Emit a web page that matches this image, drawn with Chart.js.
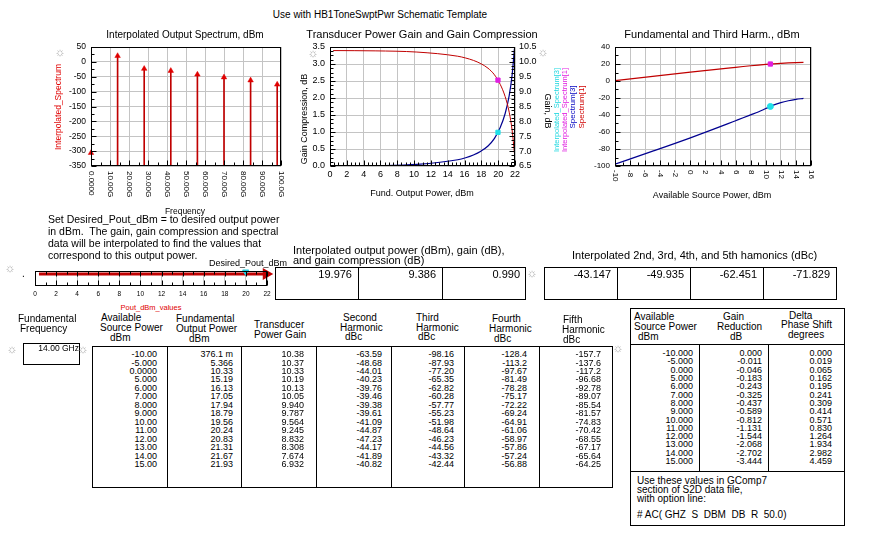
<!DOCTYPE html>
<html>
<head>
<meta charset="utf-8">
<script src="https://cdn.jsdelivr.net/npm/chart.js@4.4.1/dist/chart.umd.min.js"></script>
<style>
  body { margin: 0; background: #fff; }
  #page { position: relative; width: 880px; height: 536px; overflow: hidden; font-family: "Liberation Sans", Arial, sans-serif; color: #000; }
  .t { position: absolute; white-space: pre; }
  .line { position: absolute; background: #000; }
  canvas { position: absolute; }
</style>
</head>
<body>
<div id="page">
  <canvas id="spec" width="254" height="182" style="left:36px;top:36px"></canvas>
  <canvas id="gain" width="260" height="150" style="left:290px;top:36px"></canvas>
  <canvas id="harm" width="245" height="154" style="left:580px;top:36px"></canvas>
  <canvas id="slider" width="260" height="48" style="left:20px;top:255px"></canvas>
</div>
<script>
// spectrum at the desired output power (GHz, dBm)
const specFreqGHz = [0, 14, 28, 42, 56, 70, 84, 98];
const specDbm = [-306, 19.976, -23.171, -29.959, -42.475, -51.853, -62, -76];
const freqTicks = [0, 10, 20, 30, 40, 50, 60, 70, 80, 90, 100];
const freqTickLabels = ["0.0000", "10.00G", "20.00G", "30.00G", "40.00G", "50.00G", "60.00G", "70.00G", "80.00G", "90.00G", "100.0G"];
const pinTicks = [-10, -8, -6, -4, -2, 0, 2, 4, 6, 8, 10, 12, 14, 16];
const pinTickLabels = ["-10", "-8", "-6", "-4", "-2", "0", "2", "4", "6", "8", "10", "12", "14", "16"];

// power sweep
const pinDbm = [-10, -5, 0, 5, 6, 7, 8, 9, 10, 11, 12, 13, 14, 15];
const poutDbm = [0.3761, 5.366, 10.33, 15.19, 16.13, 17.05, 17.94, 18.79, 19.56, 20.24, 20.83, 21.31, 21.67, 21.93];
const gainDb = [10.38, 10.37, 10.33, 10.19, 10.13, 10.05, 9.940, 9.787, 9.564, 9.245, 8.832, 8.308, 7.674, 6.932];
const h2Dbc = [-63.59, -48.68, -44.01, -40.23, -39.76, -39.46, -39.38, -39.61, -41.09, -44.87, -47.23, -44.17, -41.89, -40.82];
const h3Dbc = [-98.16, -87.93, -77.20, -65.35, -62.82, -60.28, -57.77, -55.23, -51.98, -48.64, -46.23, -44.56, -43.32, -42.44];
const h4Dbc = [-128.4, -113.2, -97.67, -81.49, -78.28, -75.17, -72.22, -69.24, -64.91, -61.06, -58.97, -57.86, -57.24, -56.88];
const h5Dbc = [-157.7, -137.6, -117.2, -96.68, -92.78, -89.07, -85.54, -81.57, -74.83, -70.42, -68.55, -67.17, -65.64, -64.25];
const gainReduction = [0.000, -0.011, -0.046, -0.183, -0.243, -0.325, -0.437, -0.589, -0.812, -1.131, -1.544, -2.068, -2.702, -3.444];
const phaseShift = [0.000, 0.019, 0.065, 0.162, 0.195, 0.241, 0.309, 0.414, 0.571, 0.830, 1.264, 1.934, 2.982, 4.459];

// interpolated at Desired_Pout_dBm
const desiredPout = 19.976;
const interpGain = 9.386;
const interpComp = 0.990;
const interpHarmonics = [-43.147, -49.935, -62.451, -71.829];
const desiredPin = 10.61;
const interpThird = -29.959;

const FONT = '"Liberation Sans", Arial, sans-serif';
const page = document.getElementById("page");

function text(x, y, s, o = {}) {
  const d = document.createElement("div");
  d.className = "t";
  d.textContent = s;
  const size = o.size || 10;
  d.style.fontSize = size + "px";
  d.style.lineHeight = size + "px";
  d.style.left = x + "px";
  d.style.top = y + "px";
  let tf = o.align === "center" ? "translate(-50%,-50%)" : o.align === "right" ? "translate(-100%,-50%)" : "translate(0,-50%)";
  if (o.rot) tf = "translate(-50%,-50%) rotate(" + o.rot + "deg)";
  d.style.transform = tf;
  if (o.color) d.style.color = o.color;
  page.appendChild(d);
}
function column(xRight, yFirst, step, values, size) {
  const d = document.createElement("div");
  d.className = "t";
  d.style.fontSize = size + "px";
  d.style.lineHeight = step + "px";
  d.style.textAlign = "right";
  d.style.left = xRight + "px";
  d.style.top = (yFirst - step / 2) + "px";
  d.style.transform = "translateX(-100%)";
  d.innerHTML = values.join("<br>");
  page.appendChild(d);
}
function box(x, y, w, h) {
  const d = document.createElement("div");
  d.style.cssText = `position:absolute;left:${x}px;top:${y}px;width:${w}px;height:${h}px;border:1px solid #000;box-sizing:border-box`;
  page.appendChild(d);
}
function vline(x, y1, y2) {
  const d = document.createElement("div");
  d.className = "line";
  d.style.cssText += `left:${x}px;top:${y1}px;width:1px;height:${y2 - y1}px`;
  page.appendChild(d);
}
function hline(x1, x2, y) {
  const d = document.createElement("div");
  d.className = "line";
  d.style.cssText += `left:${x1}px;top:${y}px;width:${x2 - x1}px;height:1px`;
  page.appendChild(d);
}
const sun = (x, y) => text(x, y, "\u263C", { size: 12, align: "center", color: "#b0b0b0" });

const fmt4 = v => v === 0 ? "0.0000" : Math.abs(v) < 1 ? (v * 1000).toPrecision(4) + " m" : v.toPrecision(4);
const fmt3 = v => v.toFixed(3);

// ---------- plugins ----------
function framePlugin(o) {
  return {
    id: "frame",
    afterDraw(chart) {
      const { ctx, chartArea: a, scales } = chart;
      const L = Math.round(a.left) + 0.5, R = Math.round(a.right) - 0.5;
      const T = Math.round(a.top) + 0.5, B = Math.round(a.bottom) - 0.5;
      ctx.save();
      ctx.strokeStyle = "#000";
      ctx.lineWidth = 1;
      ctx.beginPath();
      const seg = (x1, y1, x2, y2) => { ctx.moveTo(x1, y1); ctx.lineTo(x2, y2); };
      const marks = (scale, step, draw) => {
        if (!scale || !step) return;
        const n = Math.round((scale.max - scale.min) / step);
        for (let i = 0; i <= n; i++) draw(Math.round(scale.getPixelForValue(scale.min + i * step)) + 0.5, i);
      };
      marks(scales.x, o.xMinor, (p, i) => {
        const len = i % o.xEvery === 0 ? 5 : 3;
        seg(p, B, p, B - len);
        if (o.xTop) seg(p, T, p, T + len);
      });
      marks(scales.y, o.yMinor, (p, i) => seg(L, p, L + (i % o.yEvery === 0 ? 5 : 3), p));
      marks(scales.y2, o.y2Minor, (p, i) => seg(R, p, R - (i % o.y2Every === 0 ? 5 : 3), p));
      ctx.stroke();
      ctx.strokeRect(L, T, R - L, B - T);
      ctx.restore();
    }
  };
}
function vLabelPlugin(values, labels, size, pad) {
  return {
    id: "vlabels",
    afterDraw(chart) {
      const { ctx, chartArea: a, scales: { x } } = chart;
      ctx.save();
      ctx.font = size + "px " + FONT;
      ctx.fillStyle = "#000";
      ctx.textAlign = "left";
      ctx.textBaseline = "middle";
      values.forEach((v, i) => {
        ctx.save();
        ctx.translate(Math.round(x.getPixelForValue(v)), a.bottom + pad);
        ctx.rotate(Math.PI / 2);
        ctx.fillText(labels[i], 0, 0);
        ctx.restore();
      });
      ctx.restore();
    }
  };
}

Chart.defaults.font.family = FONT;
Chart.defaults.color = "#000";
Chart.defaults.animation = false;
const GRID = "#c4c4c4";
const base = { responsive: false, devicePixelRatio: 1, plugins: { legend: { display: false }, tooltip: { enabled: false } } };

// ---------- Interpolated Output Spectrum ----------
new Chart(document.getElementById("spec"), {
  type: "bar",
  data: {
    datasets: [
      { type: "scatter", data: specFreqGHz.map((f, i) => ({ x: f, y: specDbm[i] })), pointStyle: "triangle", pointRadius: 3.2, backgroundColor: "#e00000", borderColor: "#e00000", borderWidth: 0.5, clip: false },
      { type: "bar", data: specFreqGHz.map((f, i) => ({ x: f, y: [-350, specDbm[i]] })), backgroundColor: "#c00000", barThickness: 1 }
    ]
  },
  options: {
    ...base,
    layout: { padding: { top: 11, right: 9 } },
    scales: {
      x: { type: "linear", min: 0, max: 100, offset: false, ticks: { display: false, stepSize: 10 }, grid: { color: GRID, drawTicks: false, offset: false }, border: { display: false }, afterFit: s => { s.height = 52; } },
      y: { min: -350, max: 50, ticks: { stepSize: 50, font: { size: 8.5 }, padding: 5 }, grid: { color: GRID, drawTicks: false }, border: { display: false }, afterFit: s => { s.width = 55; } }
    }
  },
  plugins: [framePlugin({ xMinor: 5, xEvery: 2, yMinor: 25, yEvery: 2 }), vLabelPlugin(freqTicks, freqTickLabels, 8, 5)]
});

// ---------- Transducer Power Gain and Gain Compression ----------
new Chart(document.getElementById("gain"), {
  type: "scatter",
  data: {
    datasets: [
      { data: [{ x: desiredPout, y: interpGain }], yAxisID: "y2", pointStyle: "rect", pointRadius: 3, backgroundColor: "#e020e0", borderColor: "#e020e0" },
      { data: [{ x: desiredPout, y: interpComp }], yAxisID: "y", pointStyle: "rect", pointRadius: 3, backgroundColor: "#20e0e8", borderColor: "#20e0e8" },
      { data: poutDbm.map((p, i) => ({ x: p, y: gainDb[i] })), yAxisID: "y2", showLine: true, borderColor: "#c00000", borderWidth: 1, pointRadius: 0, cubicInterpolationMode: "monotone" },
      { data: poutDbm.map((p, i) => ({ x: p, y: -gainReduction[i] })), yAxisID: "y", showLine: true, borderColor: "#000090", borderWidth: 1.2, pointRadius: 0, cubicInterpolationMode: "monotone" }
    ]
  },
  options: {
    ...base,
    layout: { padding: { top: 11 } },
    scales: {
      x: { min: 0, max: 22, ticks: { stepSize: 2, font: { size: 9 }, maxRotation: 0, autoSkip: false, padding: 3 }, grid: { color: GRID, drawTicks: false }, border: { display: false }, afterFit: s => { s.height = 20; } },
      y: { position: "left", min: 0, max: 3.5, ticks: { stepSize: 0.5, callback: v => v.toFixed(1), font: { size: 9 }, padding: 5 }, grid: { color: GRID, drawTicks: false }, border: { display: false }, afterFit: s => { s.width = 40; } },
      y2: { position: "right", min: 6.5, max: 10.5, ticks: { stepSize: 0.5, callback: v => v.toFixed(1), font: { size: 9 }, padding: 4 }, grid: { display: false, drawTicks: false }, border: { display: false }, afterFit: s => { s.width = 35; } }
    }
  },
  plugins: [framePlugin({ xMinor: 0.5, xEvery: 4, yMinor: 0.125, yEvery: 4, y2Minor: 0.125, y2Every: 4 })]
});

// ---------- Fundamental and Third Harm. ----------
new Chart(document.getElementById("harm"), {
  type: "scatter",
  data: {
    datasets: [
      { data: [{ x: desiredPin, y: desiredPout }], pointStyle: "rect", pointRadius: 3, backgroundColor: "#e020e0", borderColor: "#e020e0" },
      { data: [{ x: desiredPin, y: interpThird }], pointStyle: "circle", pointRadius: 3, backgroundColor: "#20e0e8", borderColor: "#20e0e8" },
      { data: pinDbm.map((p, i) => ({ x: p, y: poutDbm[i] })), showLine: true, borderColor: "#c00000", borderWidth: 1.2, pointRadius: 0 },
      { data: pinDbm.map((p, i) => ({ x: p, y: poutDbm[i] + h3Dbc[i] })), showLine: true, borderColor: "#000090", borderWidth: 1.2, pointRadius: 0, cubicInterpolationMode: "monotone" }
    ]
  },
  options: {
    ...base,
    layout: { padding: { top: 11, right: 14 } },
    scales: {
      x: { min: -10, max: 16, ticks: { display: false, stepSize: 2 }, grid: { color: GRID, drawTicks: false }, border: { display: false }, afterFit: s => { s.height = 24; } },
      y: { min: -100, max: 40, ticks: { stepSize: 20, font: { size: 8 }, padding: 5 }, grid: { color: GRID, drawTicks: false }, border: { display: false }, afterFit: s => { s.width = 35; } }
    }
  },
  plugins: [framePlugin({ xMinor: 1, xEvery: 2, yMinor: 10, yEvery: 2 }), vLabelPlugin(pinTicks, pinTickLabels, 8, 4)]
});

// ---------- Desired_Pout_dBm slider ----------
new Chart(document.getElementById("slider"), {
  type: "scatter",
  data: {
    datasets: [
      { data: [{ x: desiredPout, y: 0.95 }], pointStyle: "triangle", rotation: 180, pointRadius: 3.5, backgroundColor: "#20d0e0", borderColor: "#20d0e0", clip: false },
      { data: poutDbm.map(p => ({ x: p, y: 0.8 })), showLine: true, borderColor: "#c00000", borderWidth: 3,
        pointRadius: poutDbm.map((p, i) => i === poutDbm.length - 1 ? 4 : 0), pointStyle: "triangle", rotation: 90, backgroundColor: "#c00000", clip: false }
    ]
  },
  options: {
    ...base,
    layout: { padding: { top: 16, left: 15, right: 13 } },
    scales: {
      x: { min: 0, max: 22, ticks: { stepSize: 2, font: { size: 6.5 }, maxRotation: 0, autoSkip: false, padding: 4 }, grid: { color: GRID, drawTicks: false }, border: { display: false }, afterFit: s => { s.height = 17; } },
      y: { display: false, min: 0, max: 1 }
    }
  },
  plugins: [framePlugin({ xMinor: 1, xEvery: 2, xTop: true })]
});

// ---------- page text ----------
text(380, 15, "Use with HB1ToneSwptPwr Schematic Template", { size: 10, align: "center" });

text(185, 35, "Interpolated Output Spectrum, dBm", { size: 10, align: "center" });
text(58, 107, "Interpolated_Spectrum", { size: 8.5, rot: -90, color: "#e00000" });
text(185, 211, "Frequency", { size: 8.5, align: "center" });
sun(60, 52);

text(422, 34, "Transducer Power Gain and Gain Compression", { size: 11, align: "center" });
text(304, 119, "Gain Compression, dB", { size: 9, rot: -90 });
text(422, 193, "Fund. Output Power, dBm", { size: 9, align: "center" });
text(547, 111, "Gain, dB", { size: 9, rot: 90 });
text(557, 110, "Interpolated_Spectrum[3]", { size: 7.5, rot: -90, color: "#20d8e0" });
text(565, 110, "Interpolated_Spectrum[1]", { size: 7.5, rot: -90, color: "#e020e0" });
sun(313, 53);
sun(543, 52);

text(712, 34, "Fundamental and Third Harm., dBm", { size: 11, align: "center" });
text(573, 107, "Spectrum[3]", { size: 8, rot: -90, color: "#0000c0" });
text(582, 107, "Spectrum[1]", { size: 8, rot: -90, color: "#d00000" });
text(712, 195, "Available Source Power, dBm", { size: 9, align: "center" });

// instructions and slider labels
[
  "Set Desired_Pout_dBm = to desired output power",
  "in dBm.  The gain, gain compression and spectral",
  "data will be interpolated to find the values that",
  "correspond to this output power."
].forEach((s, i) => text(48, 219 + i * 12, s, { size: 10.5 }));
text(209, 263, "Desired_Pout_dBm", { size: 9 });
text(151, 308, "Pout_dBm_values", { size: 7.5, align: "center", color: "#e00000" });
text(22, 274, ".", { size: 10 });
sun(10, 268);

// interpolated value boxes
text(293, 250, "Interpolated output power (dBm), gain (dB),", { size: 11 });
text(293, 260, "and gain compression (dB)", { size: 11 });
box(275, 267, 251, 33);
vline(358, 267, 300);
vline(442, 267, 300);
[desiredPout, interpGain, interpComp].forEach((v, i) => text(352 + i * 84, 274, fmt3(v), { size: 11, align: "right" }));
sun(532, 273);

text(572, 255, "Interpolated 2nd, 3rd, 4th, and 5th hamonics (dBc)", { size: 11 });
box(544, 267, 293, 33);
[617, 690, 763].forEach(x => vline(x, 267, 300));
interpHarmonics.forEach((v, i) => text(611 + i * 73, 274, fmt3(v), { size: 11, align: "right" }));

// fundamental frequency
text(18, 319, "Fundamental", { size: 10 });
text(20, 329, "Frequency", { size: 10 });
box(23, 343, 57, 22);
text(79, 348, "14.00 GHz", { size: 8.5, align: "right" });
sun(12, 349);
sun(83, 349);

// sweep table
[
  [101, 318, "Available"], [100, 328, "Source Power"], [110, 338, "dBm"],
  [176, 319, "Fundamental"], [176, 329, "Output Power"], [189, 339, "dBm"],
  [254, 325, "Transducer"], [254, 335, "Power Gain"],
  [343, 318, "Second"], [340, 328, "Harmonic"], [345, 337, "dBc"],
  [416, 318, "Third"], [416, 328, "Harmonic"], [418, 337, "dBc"],
  [492, 319, "Fourth"], [489, 329, "Harmonic"], [494, 339, "dBc"],
  [563, 320, "Fifth"], [562, 330, "Harmonic"], [563, 340, "dBc"]
].forEach(([x, y, s]) => text(x, y, s, { size: 10 }));
box(92, 346, 521, 142);
[167, 241, 316, 391, 464, 539].forEach(x => vline(x, 346, 488));
[
  [157, pinDbm], [233, poutDbm], [304, gainDb], [382, h2Dbc], [454, h3Dbc], [527, h4Dbc], [601, h5Dbc]
].forEach(([x, vals]) => column(x, 354.3, 8.46, vals.map(fmt4), 9));
sun(618, 348);

// GComp7 table
box(630, 308, 215, 218);
hline(630, 845, 344);
hline(630, 845, 471);
vline(699, 344, 472);
vline(768, 344, 472);
[
  [634, 317, "Available"], [634, 327, "Source Power"], [638, 337, "dBm"],
  [723, 317, "Gain"], [717, 327, "Reduction"], [730, 337, "dB"],
  [789, 316, "Delta"], [781, 325, "Phase Shift"], [788, 335, "degrees"]
].forEach(([x, y, s]) => text(x, y, s, { size: 10 }));
[[693, pinDbm], [762, gainReduction], [832, phaseShift]].forEach(([x, vals]) => column(x, 353.3, 8.3, vals.map(fmt3), 9));
text(637, 481, "Use these values in GComp7", { size: 10 });
text(637, 490, "section of S2D data file,", { size: 10 });
text(637, 499, "with option line:", { size: 10 });
text(637, 515, "# AC( GHZ  S  DBM  DB  R  50.0)", { size: 10 });
</script>
</body>
</html>
